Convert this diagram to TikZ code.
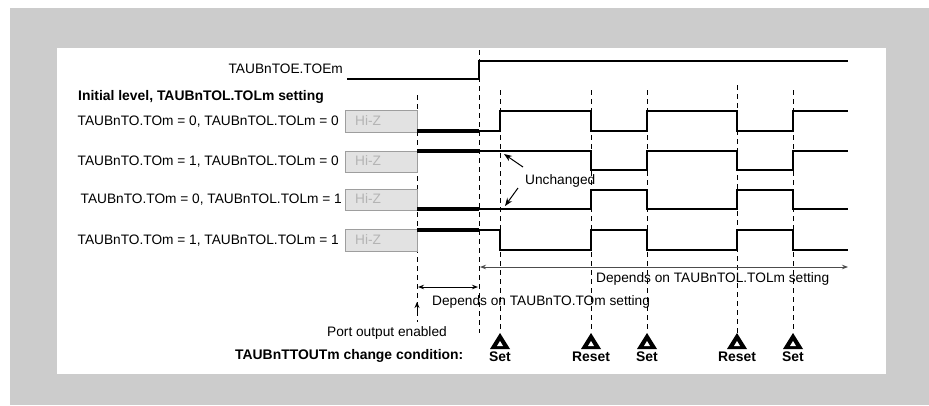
\documentclass[tikz,border=0pt]{standalone}
\usepackage{fontspec}
\setmainfont{Liberation Sans}
\usetikzlibrary{arrows.meta}
\definecolor{framegray}{HTML}{CCCCCC}
\definecolor{hizfill}{HTML}{E2E2E2}
\definecolor{hizline}{HTML}{9E9E9E}
\definecolor{hiztext}{HTML}{B4B4B4}

\begin{document}
\begin{tikzpicture}[x=1pt,y=-1pt,
  sig/.style={line width=1.3pt},
  initsig/.style={line width=3.2pt},
  guide/.style={line width=0.9pt,dash pattern=on 5pt off 4pt},
  hizbox/.style={draw=hizline,fill=hizfill,line width=1pt},
  lbl/.style={inner sep=0pt,font=\fontsize{13.7}{16}\selectfont},
  boldlbl/.style={inner sep=0pt,font=\fontsize{13.9}{16}\selectfont\bfseries},
  span/.style={line width=0.9pt,{Stealth[length=6pt,width=4.5pt]}-{Stealth[length=6pt,width=4.5pt]}},
  pointer/.style={line width=1pt,-{Stealth[length=8pt,width=6pt]}}]
\useasboundingbox (0,0) rectangle (929,405);
% frame
\fill[framegray] (10,8) rectangle (929,405);
\fill[white] (57,48) rectangle (886,374);
% guide lines
\draw[guide] (417,95) -- (417,322);
\draw[guide] (479,50) -- (479,333);
\draw[guide] (500,90) -- (500,333);
\draw[guide] (591,90) -- (591,333);
\draw[guide] (647,90) -- (647,333);
\draw[guide] (737,85) -- (737,333);
\draw[guide] (793,90) -- (793,333);
% output enable
\node[lbl,anchor=east] (toe) at (343,69) {TAUBnTOE.TOEm};
\draw[sig] (347,79) -- (479,79) -- (479,61) -- (848,61);
\node[boldlbl,anchor=west] (initlvl) at (78,97) {Initial level, TAUBnTOL.TOLm setting};
% TOm = 0, TOLm = 0
\node[lbl,anchor=east] (lvlA) at (339,122) {TAUBnTO.TOm = 0, TAUBnTOL.TOLm = 0};
\draw[hizbox] (345,110) rectangle (417,132);
\node[lbl,text=hiztext,anchor=west] (hizA) at (355,121) {Hi-Z};
\draw[initsig] (417,131) -- (479,131);
\draw[sig] (479,131) -- (500,131) -- (500,111) -- (591,111) -- (591,131) -- (647,131) -- (647,111) -- (737,111) -- (737,131) -- (793,131) -- (793,111) -- (848,111);
% TOm = 1, TOLm = 0
\node[lbl,anchor=east] (lvlB) at (339,162) {TAUBnTO.TOm = 1, TAUBnTOL.TOLm = 0};
\draw[hizbox] (345,151) rectangle (417,172);
\node[lbl,text=hiztext,anchor=west] (hizB) at (355,161) {Hi-Z};
\draw[initsig] (417,151) -- (479,151);
\draw[sig] (479,151) -- (591,151) -- (591,170) -- (647,170) -- (647,151) -- (737,151) -- (737,170) -- (793,170) -- (793,151) -- (848,151);
% TOm = 0, TOLm = 1
\node[lbl,anchor=east] (lvlC) at (342,200) {TAUBnTO.TOm = 0, TAUBnTOL.TOLm = 1};
\draw[hizbox] (345,189) rectangle (417,210);
\node[lbl,text=hiztext,anchor=west] (hizC) at (355,199) {Hi-Z};
\draw[initsig] (417,209) -- (479,209);
\draw[sig] (479,209) -- (591,209) -- (591,190) -- (647,190) -- (647,209) -- (737,209) -- (737,190) -- (793,190) -- (793,209) -- (848,209);
% TOm = 1, TOLm = 1
\node[lbl,anchor=east] (lvlD) at (339,241) {TAUBnTO.TOm = 1, TAUBnTOL.TOLm = 1};
\draw[hizbox] (345,229) rectangle (417,251);
\node[lbl,text=hiztext,anchor=west] (hizD) at (355,240) {Hi-Z};
\draw[initsig] (417,230) -- (479,230);
\draw[sig] (479,230) -- (500,230) -- (500,250) -- (591,250) -- (591,230) -- (647,230) -- (647,250) -- (737,250) -- (737,230) -- (793,230) -- (793,250) -- (848,250);
% unchanged
\node[lbl,anchor=west] (unch) at (525,181) {Unchanged};
\coordinate (unchUp) at (504,154);
\coordinate (unchDn) at (505,206);
\draw[pointer] (523,167) -- (unchUp);
\draw[pointer] (518,188) -- (unchDn);
% spans
\coordinate (tolL) at (480,267);
\coordinate (tolR) at (848,267);
\draw[span,black!70] (tolL) -- (tolR);
\node[lbl,anchor=west] (dependsTOL) at (596,279) {Depends on TAUBnTOL.TOLm setting};
\coordinate (toL) at (418,287);
\coordinate (toR) at (478,287);
\draw[span] (toL) -- (toR);
\node[lbl,anchor=west] (dependsTO) at (432,302) {Depends on TAUBnTO.TOm setting};
\coordinate (portTip) at (417,302);
\draw[line width=0.9pt,-{Stealth[length=6pt,width=5pt]}] (417,311) -- (portTip);
\node[lbl] (portEn) at (387,333) {Port output enabled};
% change condition
\node[boldlbl,anchor=west] (chgCond) at (235,356) {TAUBnTTOUTm change condition:};
\fill (500,333) -- (490,349) -- (510,349) -- cycle;
\fill[white] (500,341) -- (497,346) -- (503,346) -- cycle;
\node[boldlbl] (setA) at (500,357) {Set};
\fill (591,333) -- (581,349) -- (601,349) -- cycle;
\fill[white] (591,341) -- (588,346) -- (594,346) -- cycle;
\node[boldlbl] (resetA) at (591,357) {Reset};
\fill (647,333) -- (637,349) -- (657,349) -- cycle;
\fill[white] (647,341) -- (644,346) -- (650,346) -- cycle;
\node[boldlbl] (setB) at (647,357) {Set};
\fill (737,333) -- (727,349) -- (747,349) -- cycle;
\fill[white] (737,341) -- (734,346) -- (740,346) -- cycle;
\node[boldlbl] (resetB) at (737,357) {Reset};
\fill (793,333) -- (783,349) -- (803,349) -- cycle;
\fill[white] (793,341) -- (790,346) -- (796,346) -- cycle;
\node[boldlbl] (setC) at (793,357) {Set};
\end{tikzpicture}
\end{document}
